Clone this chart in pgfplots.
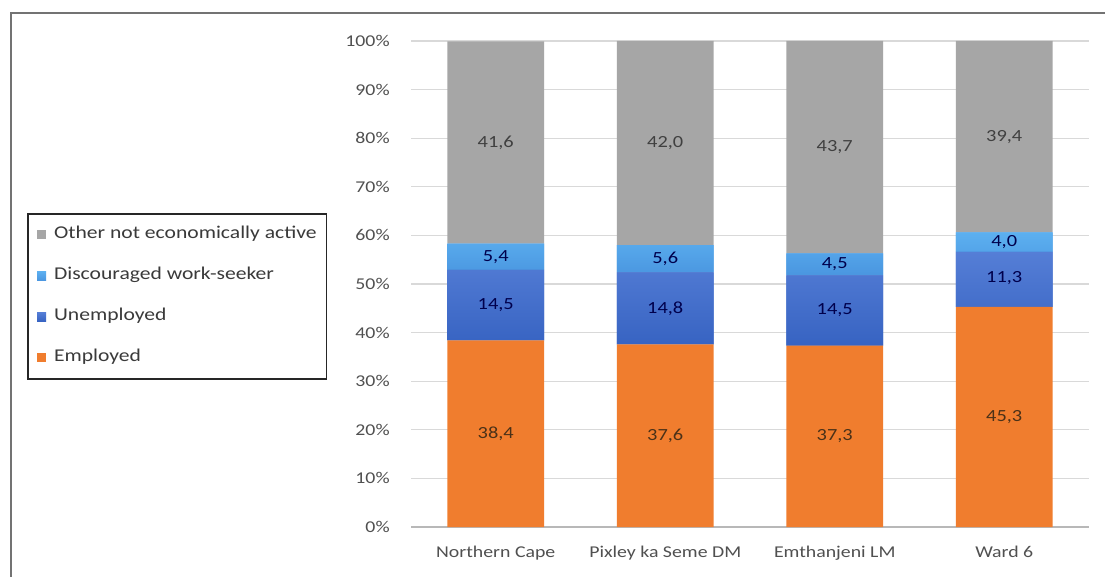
\documentclass[border=0pt]{standalone}
\usepackage{fontspec}
\setmainfont{Carlito}[FakeStretch=1.2]
\usepackage{pgfplots}
\pgfplotsset{compat=1.18}
\definecolor{cgray}{HTML}{A6A6A6}
\definecolor{clbluet}{HTML}{5CB0F0}
\definecolor{clblueb}{HTML}{4A96E0}
\definecolor{cdbluet}{HTML}{557ED6}
\definecolor{cdblueb}{HTML}{3763C2}
\definecolor{corange}{HTML}{F07D2E}
\definecolor{gridc}{HTML}{D9D9D9}
\definecolor{textc}{HTML}{505050}
\definecolor{legtext}{HTML}{3A3A3A}
\begin{document}
\begin{tikzpicture}[x=1pt,y=1pt]
\useasboundingbox (0,0) rectangle (1105,576);
\fill[white] (0,0) rectangle (1105,576);
\draw[black!55, line width=1.6pt] (11,-10) rectangle (1125,563);
\begin{axis}[
  at={(411pt,49pt)}, anchor=south west,
  scale only axis, width=678pt, height=486pt,
  ybar stacked, bar width=0.572,
  xmin=-0.5, xmax=3.5, ymin=0, ymax=100,
  xtick={0,1,2,3},
  xticklabels={Northern Cape, Pixley ka Seme DM, Emthanjeni LM, Ward 6},
  ytick={0,10,...,100},
  yticklabel={\pgfmathprintnumber{\tick}\%},
  /pgf/number format/assume math mode=true,
  ymajorgrids, grid style={gridc, line width=1.3pt},
  axis x line=bottom, axis y line=left,
  x axis line style={-, draw=gridc!85!black, line width=1.3pt},
  y axis line style={draw=none},
  tick style={draw=none},
  ticklabel style={font=\fontsize{16.5}{19}\selectfont, text=textc},
  yticklabel style={inner sep=0pt, xshift=-19pt},
  xticklabel style={yshift=-13pt},
  legend style={at={(-0.566,0.646)}, anchor=north west, draw=black!85,
    line width=1.6pt, fill=white, font=\fontsize{18}{21}\selectfont,
    text=legtext, inner xsep=9pt, inner ysep=12pt, row sep=23pt,
    nodes={inner sep=1pt, text height=12pt, text depth=4pt}},
  legend cell align=left,
  legend image code/.code={\fill[#1] (0pt,-4.5pt) rectangle (9pt,4.5pt); \path (16pt,0pt);},
  reverse legend,
]
\addplot[fill=corange, draw=none] coordinates {(0,38.4) (1,37.6) (2,37.3) (3,45.3)};
\addlegendentry{Employed}
\addplot[fill=cdblueb!60!cdbluet, draw=none, top color=cdbluet, bottom color=cdblueb] coordinates {(0,14.5) (1,14.8) (2,14.5) (3,11.3)};
\addlegendentry{Unemployed}
\addplot[fill=clblueb!60!clbluet, draw=none, top color=clbluet, bottom color=clblueb] coordinates {(0,5.4) (1,5.6) (2,4.5) (3,4.0)};
\addlegendentry{Discouraged work-seeker}
\addplot[fill=cgray, draw=none] coordinates {(0,41.6) (1,42.0) (2,43.7) (3,39.4)};
\addlegendentry{Other not economically active}
\end{axis}
\begin{axis}[
  at={(411pt,49pt)}, anchor=south west,
  scale only axis, width=678pt, height=486pt,
  xmin=-0.5, xmax=3.5, ymin=0, ymax=100, hide axis,
  nodes near coords, nodes near coords align=center,
  point meta=explicit symbolic,
  every node near coord/.append style={font=\fontsize{17}{20}\selectfont, inner sep=0pt},
]
\addplot[draw=none, mark=none, nodes near coords style={text=black!45!brown!70!black}] table[meta=l] {
x y l
0 19.2 38,4
1 18.8 37,6
2 18.65 37,3
3 22.65 45,3
};
\addplot[draw=none, mark=none, nodes near coords style={text=blue!30!black}] table[meta=l] {
x y l
0 45.65 14,5
1 45.0 14,8
2 44.55 14,5
3 51.15 11,3
0 55.6 5,4
1 55.2 5,6
2 54.05 4,5
3 58.6 4,0
};
\addplot[draw=none, mark=none, nodes near coords style={text=black!75}] table[meta=l] {
x y l
0 79.1 41,6
1 79.0 42,0
2 78.15 43,7
3 80.3 39,4
};
\end{axis}
\end{tikzpicture}
\end{document}
